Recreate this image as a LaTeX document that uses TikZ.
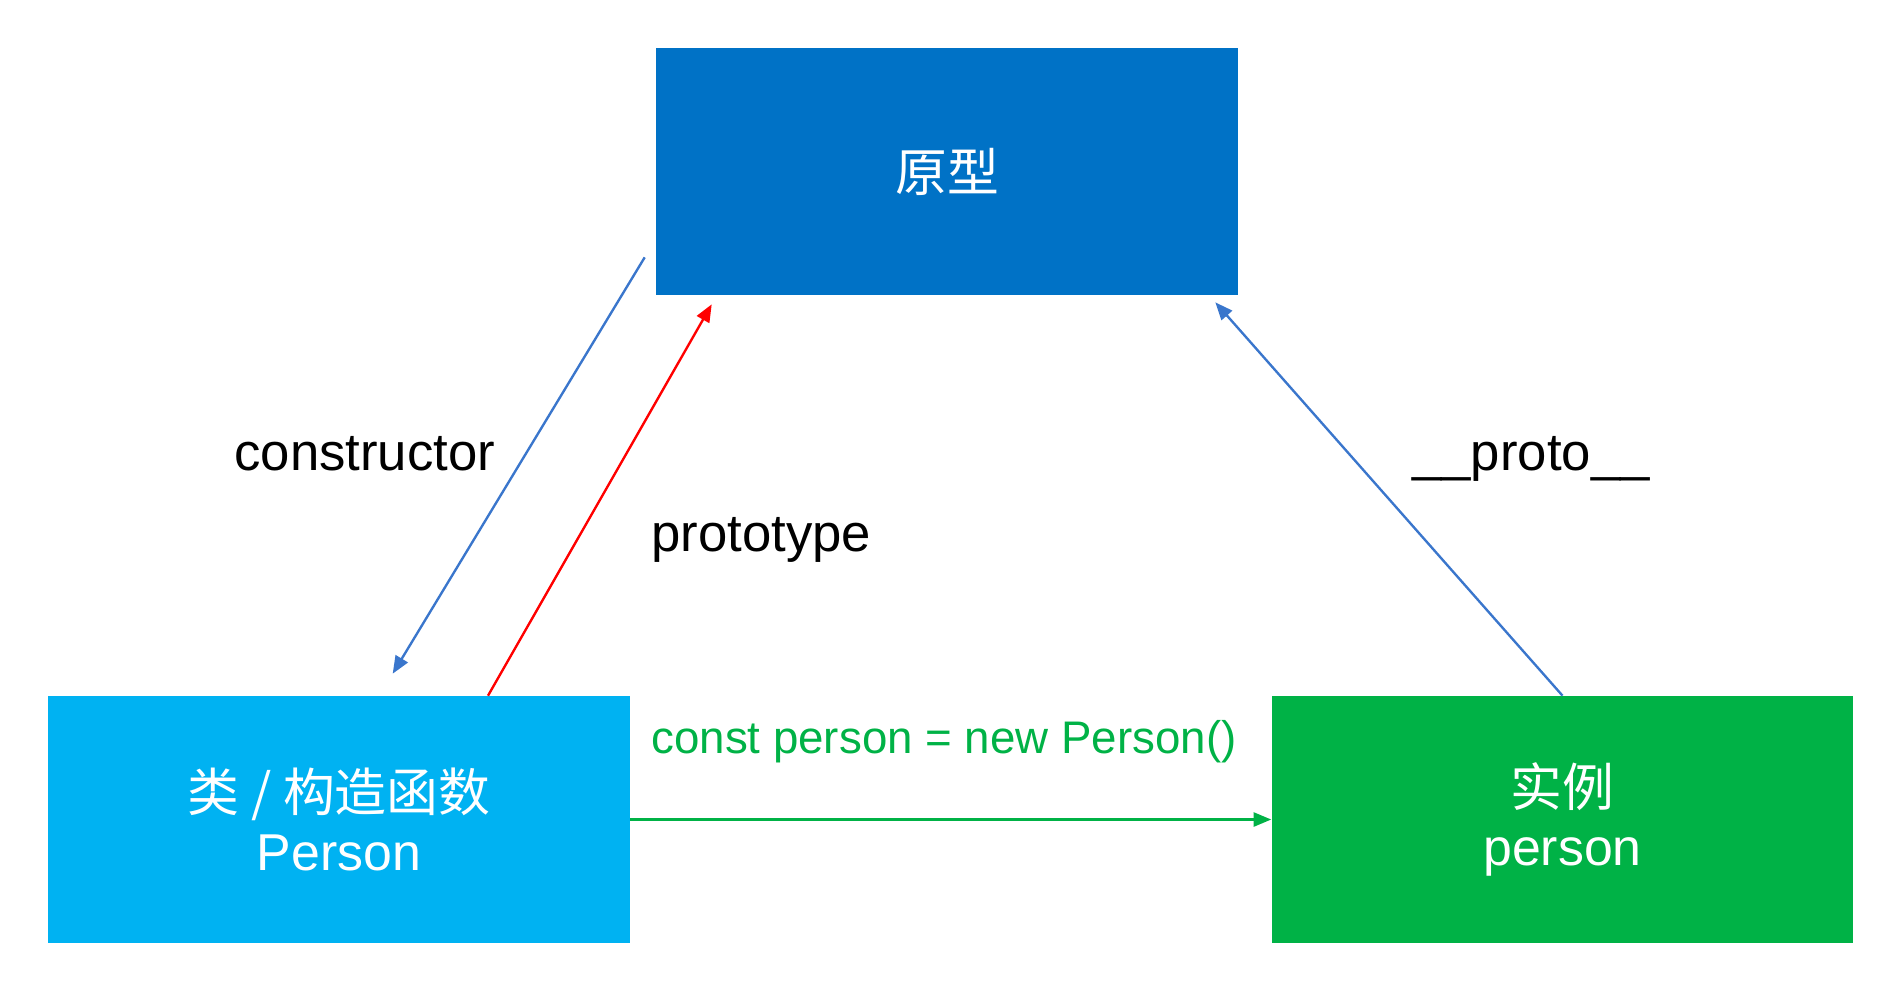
\documentclass[tikz,border=0pt]{standalone}
\usepackage{fontspec}
\setmainfont{Liberation Sans}
\newfontfamily\cjk{Noto Sans CJK SC}
\usepackage{xcolor}
\usetikzlibrary{calc,positioning,arrows.meta}

\definecolor{protoblue}{RGB}{0,114,198}
\definecolor{classblue}{RGB}{0,178,242}
\definecolor{instgreen}{RGB}{0,178,70}
\definecolor{linkblue}{RGB}{58,118,204}

\begin{document}
\begin{tikzpicture}[
                x=0.02cm,y=-0.02cm,
                box/.style={rectangle,minimum width=11.64cm,minimum height=4.94cm,inner sep=0pt,
                    text=white,align=center,font=\fontsize{29.5}{34}\selectfont},
                link/.style={line width=1.35pt,-{Triangle[length=10pt,width=8pt]}},
                lbl/.style={anchor=base west,inner sep=0pt,font=\fontsize{30}{36}\selectfont}
            ]
                \useasboundingbox (0,0) rectangle (1888,992);

                \node[box,fill=protoblue] (proto) at (947,171.5) {{\cjk 原型}};
                \node[box,fill=classblue] (ctor)  at (339,819.5) {{\cjk 类 / 构造函数}\\Person};
                \node[box,fill=instgreen] (inst)  at (1562.5,819.5) {{\cjk 实例}\\person};

                % free ends of the slanted links
                \coordinate (ctorFrom)  at ($(proto.south west)+(-11,-38)$);
                \coordinate (ctorTo)    at ($(ctor.north west)+(345,-22)$);
                \coordinate (protoFrom) at ($(ctor.north)+(149,0)$);
                \coordinate (protoTo)   at ($(proto.south west)+(56,9)$);
                \coordinate (instTo)    at ($(proto.south east)+(-23,7)$);

                \draw[link,linkblue] (ctorFrom)  -- (ctorTo);
                \draw[link,red]      (protoFrom) -- (protoTo);
                \draw[link,linkblue] (inst.north) -- (instTo);
                \draw[link,instgreen] (ctor.east) -- (inst.west);

                \node[lbl] (lctor)  at (234,470)  {constructor};
                \node[lbl] (lproto) at (651,551)  {prototype};
                \node[lbl] (linst)  at (1412,470) {\_\_proto\_\_};
                \node[lbl,text=instgreen,font=\fontsize{26}{31}\selectfont] (lnew) at (651,753) {const person = new Person()};
            \end{tikzpicture}
\end{document}
